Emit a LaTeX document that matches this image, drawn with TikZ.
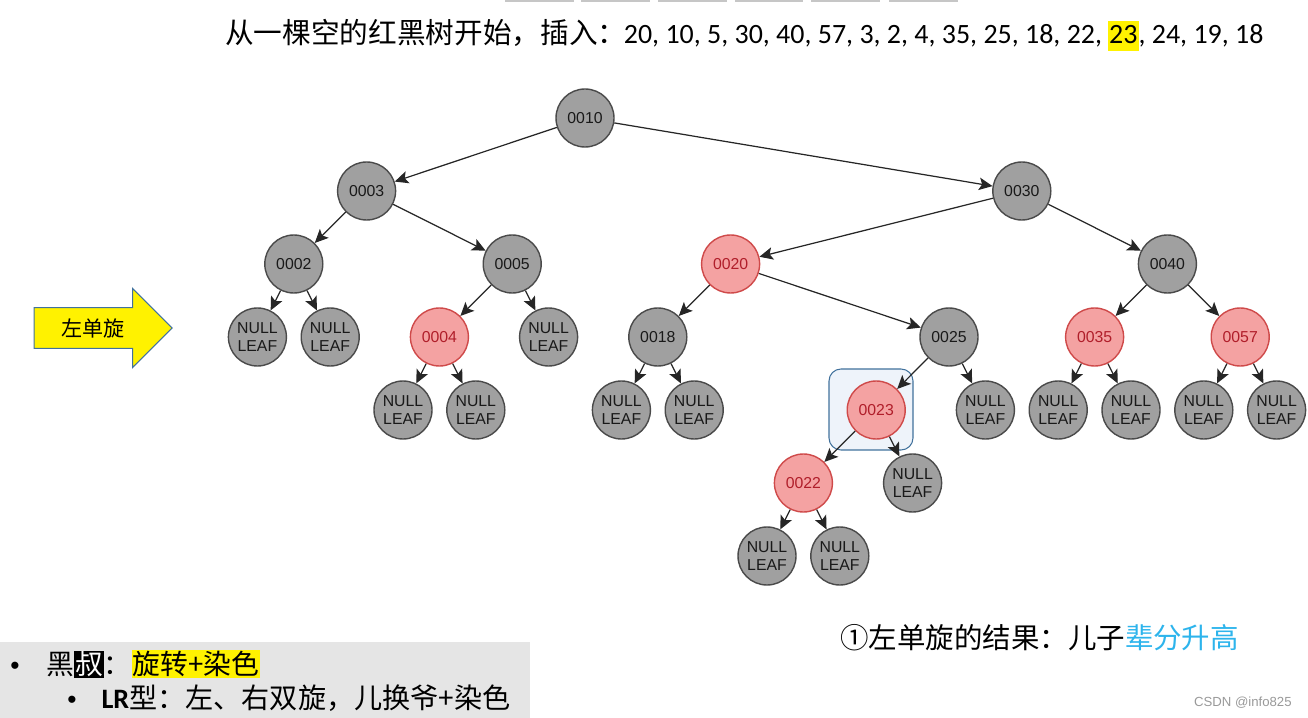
\documentclass[tikz,border=0pt]{standalone}
\usepackage{fontspec}
\setmainfont{Liberation Sans}
\newfontfamily\cjk{Noto Sans CJK SC}
\newfontfamily\numfont{Carlito}
\usetikzlibrary{shapes, arrows.meta, positioning, calc}

\definecolor{nodegray}{HTML}{A0A0A0}
\definecolor{nodeedge}{HTML}{4A4A4A}
\definecolor{redfill}{HTML}{F4A2A2}
\definecolor{rededge}{HTML}{CF4A4A}
\definecolor{redtext}{HTML}{B01E2A}
\definecolor{sky}{HTML}{2DB4EC}
\definecolor{boxblue}{HTML}{41719C}
\definecolor{boxfill}{HTML}{EEF3FA}

\tikzset{
  blk/.style={draw=nodeedge, fill=nodegray, circle, line width=0.8pt, minimum size=1.16cm, inner sep=0pt, text=black!90, font=\fontsize{9}{9.8}\selectfont, align=center},
  rednode/.style={blk, draw=rededge, fill=redfill, text=redtext},
  nil/.style={blk}
}

\begin{document}
\begin{tikzpicture}[node distance=1.46cm and 0.728cm, on grid, >={Stealth[length=2.7mm,width=2.5mm,inset=0.6mm]}]
    \useasboundingbox (0,0) rectangle (26.16,-14.36);

    % strips at the top edge
    \foreach \x/\w in {10.1/1.38, 11.62/1.38, 13.16/1.38, 14.7/1.36, 16.22/1.38, 17.78/1.38}
      \fill[gray!45] (\x,0) rectangle ++(\w,-0.05);

    % Title
    \node (title) [anchor=west, inner sep=0pt] at (4.5,-0.7) {{\cjk\fontsize{16.3}{19}\selectfont 从一棵空的红黑树开始，插入：}\hspace{-0.05cm}{\numfont\fontsize{15.9}{19}\selectfont 20, 10, 5, 30, 40, 57, 3, 2, 4, 35, 25, 18, 22, {\setlength\fboxsep{0.6pt}\colorbox{yellow}{\rule[-0.22em]{0pt}{1.0em}23}}, 24, 19, 18}};

    % Rotation arrow
    \node (rot) [single arrow, draw=boxblue, fill=yellow, line width=0.6pt, minimum height=2.76cm, minimum width=1.58cm, single arrow head extend=0.26cm, inner sep=2pt, font=\cjk\fontsize{12}{14}\selectfont] at (1.86,-6.56) {左单旋\hspace{0.5cm}};

    % Highlight around the new node
    \node (mark) [draw=boxblue, fill=boxfill, rounded corners=0.24cm, minimum width=1.68cm, minimum height=1.62cm, line width=0.6pt] at (17.42,-8.19) {};

    % Nodes
    \node (n0010) [blk] at (11.7,-2.36) {0010};
    \node (n0003) [blk, below left=1.46cm and 4.368cm of n0010] {0003};
    \node (n0030) [blk, below right=1.46cm and 8.736cm of n0010] {0030};
    \node (n0002) [blk, below left=1.46cm and 1.456cm of n0003] {0002};
    \node (n0005) [blk, below right=1.46cm and 2.912cm of n0003] {0005};
    \node (n0020) [rednode, below left=1.46cm and 5.824cm of n0030] {0020};
    \node (n0040) [blk, below right=1.46cm and 2.912cm of n0030] {0040};
    \node (n0002a) [nil, below left=of n0002] {NULL\\LEAF};
    \node (n0002b) [nil, below right=of n0002] {NULL\\LEAF};
    \node (n0004) [rednode, below left=1.46cm and 1.456cm of n0005] {0004};
    \node (n0005b) [nil, below right=of n0005] {NULL\\LEAF};
    \node (n0018) [blk, below left=1.46cm and 1.456cm of n0020] {0018};
    \node (n0025) [blk, below right=1.46cm and 4.368cm of n0020] {0025};
    \node (n0035) [rednode, below left=1.46cm and 1.456cm of n0040] {0035};
    \node (n0057) [rednode, below right=1.46cm and 1.456cm of n0040] {0057};
    \node (n0004a) [nil, below left=of n0004] {NULL\\LEAF};
    \node (n0004b) [nil, below right=of n0004] {NULL\\LEAF};
    \node (n0018a) [nil, below left=of n0018] {NULL\\LEAF};
    \node (n0018b) [nil, below right=of n0018] {NULL\\LEAF};
    \node (n0023) [rednode, below left=1.46cm and 1.456cm of n0025] {0023};
    \node (n0025b) [nil, below right=of n0025] {NULL\\LEAF};
    \node (n0035a) [nil, below left=of n0035] {NULL\\LEAF};
    \node (n0035b) [nil, below right=of n0035] {NULL\\LEAF};
    \node (n0057a) [nil, below left=of n0057] {NULL\\LEAF};
    \node (n0057b) [nil, below right=of n0057] {NULL\\LEAF};
    \node (n0022) [rednode, below left=1.46cm and 1.456cm of n0023] {0022};
    \node (n0023b) [nil, below right=of n0023] {NULL\\LEAF};
    \node (n0022a) [nil, below left=of n0022] {NULL\\LEAF};
    \node (n0022b) [nil, below right=of n0022] {NULL\\LEAF};

    % Arrows
    \draw[->, draw=black!85, line width=0.7pt] (n0010) -- (n0003);
    \draw[->, draw=black!85, line width=0.7pt] (n0010) -- (n0030);
    \draw[->, draw=black!85, line width=0.7pt] (n0003) -- (n0002);
    \draw[->, draw=black!85, line width=0.7pt] (n0003) -- (n0005);
    \draw[->, draw=black!85, line width=0.7pt] (n0030) -- (n0020);
    \draw[->, draw=black!85, line width=0.7pt] (n0030) -- (n0040);
    \draw[->, draw=black!85, line width=0.7pt] (n0002) -- (n0002a);
    \draw[->, draw=black!85, line width=0.7pt] (n0002) -- (n0002b);
    \draw[->, draw=black!85, line width=0.7pt] (n0005) -- (n0004);
    \draw[->, draw=black!85, line width=0.7pt] (n0005) -- (n0005b);
    \draw[->, draw=black!85, line width=0.7pt] (n0020) -- (n0018);
    \draw[->, draw=black!85, line width=0.7pt] (n0020) -- (n0025);
    \draw[->, draw=black!85, line width=0.7pt] (n0040) -- (n0035);
    \draw[->, draw=black!85, line width=0.7pt] (n0040) -- (n0057);
    \draw[->, draw=black!85, line width=0.7pt] (n0004) -- (n0004a);
    \draw[->, draw=black!85, line width=0.7pt] (n0004) -- (n0004b);
    \draw[->, draw=black!85, line width=0.7pt] (n0018) -- (n0018a);
    \draw[->, draw=black!85, line width=0.7pt] (n0018) -- (n0018b);
    \draw[->, draw=black!85, line width=0.7pt] (n0025) -- (n0023);
    \draw[->, draw=black!85, line width=0.7pt] (n0025) -- (n0025b);
    \draw[->, draw=black!85, line width=0.7pt] (n0035) -- (n0035a);
    \draw[->, draw=black!85, line width=0.7pt] (n0035) -- (n0035b);
    \draw[->, draw=black!85, line width=0.7pt] (n0057) -- (n0057a);
    \draw[->, draw=black!85, line width=0.7pt] (n0057) -- (n0057b);
    \draw[->, draw=black!85, line width=0.7pt] (n0023) -- (n0022);
    \draw[->, draw=black!85, line width=0.7pt] (n0023) -- (n0023b);
    \draw[->, draw=black!85, line width=0.7pt] (n0022) -- (n0022a);
    \draw[->, draw=black!85, line width=0.7pt] (n0022) -- (n0022b);

    % Result note
    \node (result) [anchor=west, inner sep=0pt, font=\cjk\fontsize{16.2}{19}\selectfont] at (16.8,-12.76) {①左单旋的结果：儿子{\color{sky}辈分升高}};
    \node (csdn) [anchor=east, inner sep=0pt, text=gray!80, font=\fontsize{7.5}{9}\selectfont] at (25.84,-14.06) {CSDN @info825};

    % Rule box
    \fill[black!10] (0,-12.84) rectangle (10.6,-14.36);
    \node (rule1) [anchor=west, inner sep=0pt, font=\cjk\fontsize{15.8}{18}\selectfont] at (0.2,-13.28) {{\rmfamily\fontsize{15}{15}\selectfont•}\hspace{0.54cm}黑{\setlength\fboxsep{0.5pt}\colorbox{black}{\color{white}叔}}：{\setlength\fboxsep{0.5pt}\colorbox{yellow}{旋转+染色}}};
    \node (rule2) [anchor=west, inner sep=0pt, font=\cjk\fontsize{16}{18}\selectfont] at (1.34,-13.96) {{\rmfamily\fontsize{15}{15}\selectfont•}\hspace{0.5cm}{\numfont\bfseries LR}型：左、右双旋，儿换爷+染色};
\end{tikzpicture}
\end{document}
